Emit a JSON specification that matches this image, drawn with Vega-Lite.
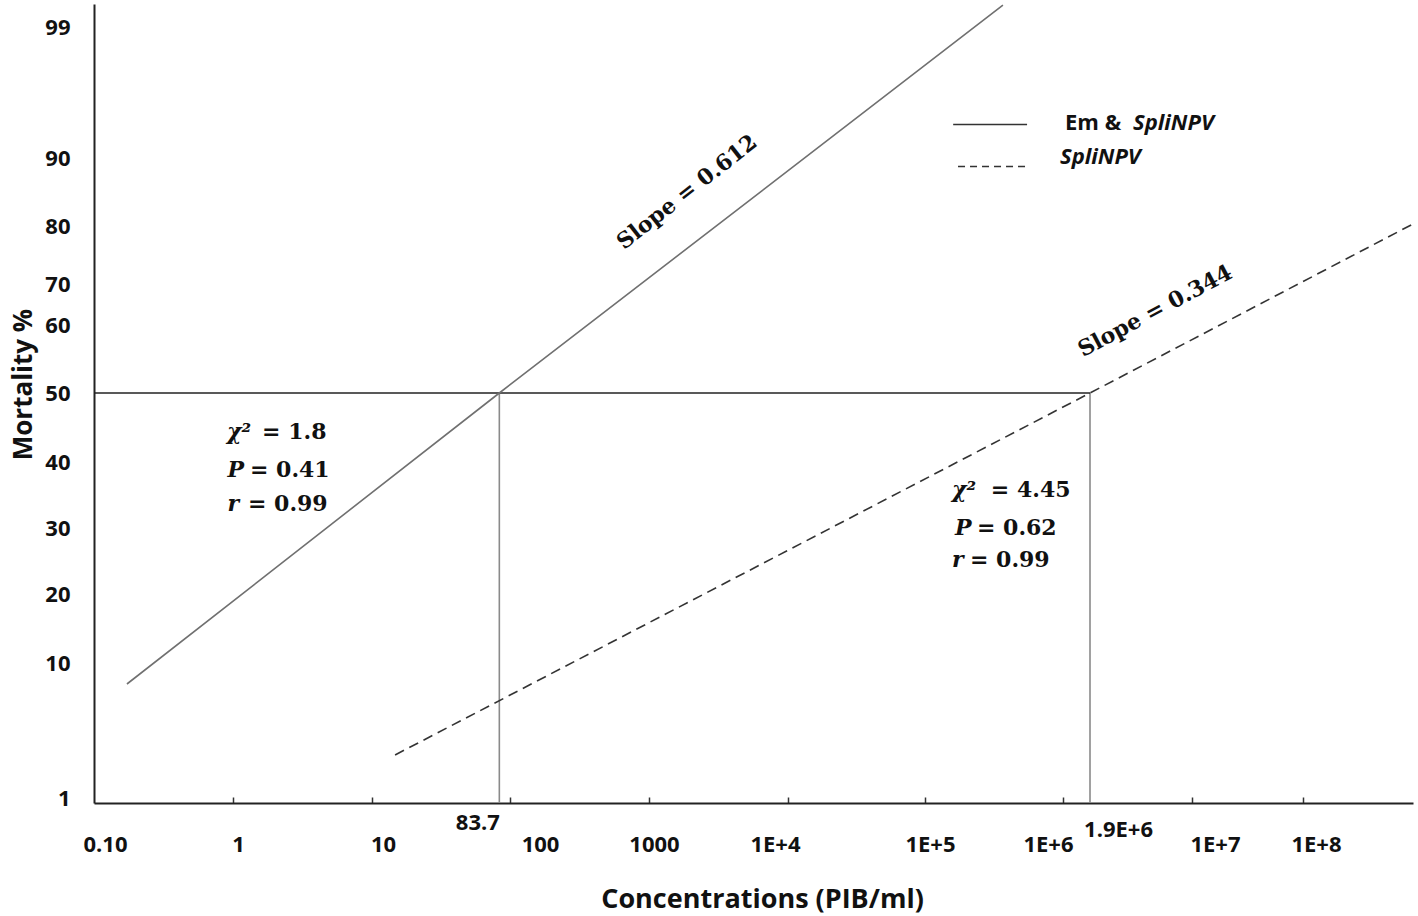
{
  "$schema": "https://vega.github.io/schema/vega-lite/v6.json",
  "width": 1319,
  "height": 799,
  "autosize": {"type": "none"},
  "padding": {"left": 94, "top": 4, "right": 5, "bottom": 113},
  "background": "#ffffff",
  "config": {"view": {"stroke": null}},
  "datasets": {
    "lines": [
      {"series": "Em & SpliNPV", "conc": 0.1726, "mort": 8.6},
      {"series": "Em & SpliNPV", "conc": 83.7, "mort": 50},
      {"series": "Em & SpliNPV", "conc": 367000, "mort": 100.5},
      {"series": "SpliNPV", "conc": 14.7, "mort": 3.87},
      {"series": "SpliNPV", "conc": 1900000, "mort": 50},
      {"series": "SpliNPV", "conc": 1000000000, "mort": 80.3}
    ],
    "refs": [
      {"kind": "h", "conc": 0.1, "conc2": 1900000, "mort": 50},
      {"kind": "v", "conc": 83.7, "mort": 50},
      {"kind": "v", "conc": 1900000, "mort": 50}
    ],
    "slopes": [
      {"text": "Slope = 0.612", "conc": 1876, "mort": 85.0},
      {"text": "Slope = 0.344", "conc": 5480000, "mort": 63.4}
    ],
    "stats": [
      {"kind": "sym", "text": "χ²", "conc": 0.906, "mort": 44.35},
      {"kind": "sym", "text": "P", "conc": 0.913, "mort": 38.8},
      {"kind": "sym", "text": "r", "conc": 0.913, "mort": 33.6},
      {"kind": "val", "text": "= 1.8", "conc": 1.62, "mort": 44.35},
      {"kind": "val", "text": "= 0.41", "conc": 1.325, "mort": 38.8},
      {"kind": "val", "text": "= 0.99", "conc": 1.282, "mort": 33.6},
      {"kind": "sym", "text": "χ²", "conc": 156900, "mort": 35.8},
      {"kind": "sym", "text": "P", "conc": 165000, "mort": 30.0},
      {"kind": "sym", "text": "r", "conc": 156900, "mort": 25.2},
      {"kind": "val", "text": "= 4.45", "conc": 300000, "mort": 35.8},
      {"kind": "val", "text": "=  0.62", "conc": 238100, "mort": 30.0},
      {"kind": "val", "text": "= 0.99", "conc": 211900, "mort": 25.2}
    ],
    "legendLines": [
      {"series": "Em & SpliNPV", "conc": 160000, "conc2": 549000, "mort": 92.3},
      {"series": "SpliNPV", "conc": 173500, "conc2": 549000, "mort": 88.75}
    ],
    "legendText": [
      {"text": "Em &", "conc": 1049000, "mort": 92.4},
      {"text": "SpliNPV", "conc": 3830000, "mort": 92.4},
      {"text": "SpliNPV", "conc": 951000, "mort": 90.1}
    ]
  },
  "encoding": {
    "x": {
      "field": "conc",
      "type": "quantitative",
      "scale": {
        "type": "log",
        "domain": [0.1, 1, 10, 100, 1000, 10000, 100000, 1000000, 1900000, 10000000, 100000000, 1000000000],
        "range": [0, 139, 278, 416, 555, 694, 831, 969, 996, 1098, 1209, 1319],
        "nice": false,
        "zero": false
      },
      "axis": {
        "title": "Concentrations (PIB/ml)",
        "values": [0.1, 1, 10, 83.7, 100, 1000, 10000, 100000, 1000000, 1900000, 10000000, 100000000],
        "labelExpr": "datum.value == 0.1 ? '0.10' : datum.value == 83.7 ? '83.7' : datum.value == 1900000 ? '1.9E+6' : datum.value < 10000 ? format(datum.value, 'd') : '1E+' + round(log(datum.value) / LN10)",
        "labelOverlap": false,
        "labelFlush": false,
        "labelBound": false,
        "labelFont": "Open Sans",
        "labelFontSize": 22,
        "labelFontWeight": "bold",
        "labelColor": "#111111",
        "labelAlign": "center",
        "labelBaseline": "top",
        "labelPadding": {"condition": [{"test": "datum.value == 83.7", "value": 15.5}, {"test": "datum.value == 1900000", "value": 22.5}], "value": 37.5},
        "labelOffset": {"condition": [
          {"test": "datum.value == 0.1", "value": 11},
          {"test": "datum.value == 10", "value": 11},
          {"test": "datum.value == 100", "value": 30},
          {"test": "datum.value == 10000", "value": -13},
          {"test": "datum.value == 1000000", "value": -15},
          {"test": "datum.value == 10000000", "value": 23},
          {"test": "datum.value == 100000000", "value": 13},
          {"test": "datum.value == 83.7", "value": -22},
          {"test": "datum.value == 1900000", "value": 28}
        ], "value": 5},
        "ticks": true,
        "tickSize": -6,
        "tickColor": "#333333",
        "tickWidth": 1.5,
        "tickOpacity": {"condition": {"test": "datum.value == 83.7 || datum.value == 1900000 || datum.value == 0.1", "value": 0}, "value": 1},
        "domain": true,
        "domainColor": "#222222",
        "domainWidth": 2,
        "grid": false,
        "titleFont": "Open Sans",
        "titleFontSize": 27,
        "titleFontWeight": "bold",
        "titleColor": "#111111",
        "titleX": 668,
        "titleY": 96,
        "titleAlign": "center",
        "titleBaseline": "middle"
      }
    },
    "y": {
      "field": "mort",
      "type": "quantitative",
      "scale": {
        "type": "linear",
        "domain": [0.667, 1, 10, 20, 30, 40, 50, 60, 70, 80, 90, 99, 100.58],
        "range": [799, 794, 659, 590, 524, 458, 389, 321, 280, 222, 154, 23, 0],
        "nice": false,
        "zero": false
      },
      "axis": {
        "title": "Mortality %",
        "values": [1, 10, 20, 30, 40, 50, 60, 70, 80, 90, 99],
        "format": "d",
        "ticks": false,
        "domain": true,
        "domainColor": "#222222",
        "domainWidth": 2,
        "grid": false,
        "labelFont": "Open Sans",
        "labelFontSize": 22,
        "labelFontWeight": "bold",
        "labelColor": "#111111",
        "labelPadding": 24,
        "labelAlign": "right",
        "labelBaseline": "middle",
        "labelOverlap": false,
        "labelFlush": false,
        "titleFont": "Open Sans",
        "titleFontSize": 26,
        "titleFontWeight": "bold",
        "titleColor": "#111111",
        "titleX": -71,
        "titleY": 380,
        "titleAlign": "center",
        "titleBaseline": "middle"
      }
    }
  },
  "layer": [
    {
      "data": {"name": "refs"},
      "transform": [{"filter": "datum.kind == 'v'"}],
      "mark": {"type": "rule", "color": "#8a8a8a", "strokeWidth": 1.6},
      "encoding": {"y2": {"value": "height"}}
    },
    {
      "data": {"name": "refs"},
      "transform": [{"filter": "datum.kind == 'h'"}],
      "mark": {"type": "rule", "color": "#222222", "strokeWidth": 1.6},
      "encoding": {"x2": {"field": "conc2"}}
    },
    {
      "data": {"name": "lines"},
      "transform": [{"filter": "datum.series == 'Em & SpliNPV'"}],
      "mark": {"type": "line", "color": "#707070", "strokeWidth": 1.6},
      "encoding": {}
    },
    {
      "data": {"name": "lines"},
      "transform": [{"filter": "datum.series == 'SpliNPV'"}],
      "mark": {"type": "line", "color": "#333333", "strokeWidth": 1.6, "strokeDash": [10, 6]},
      "encoding": {}
    },
    {
      "data": {"name": "slopes"},
      "transform": [{"filter": "datum.text == 'Slope = 0.612'"}],
      "mark": {"type": "text", "font": "DejaVu Serif", "fontWeight": "bold", "fontSize": 22, "angle": -38, "align": "center", "baseline": "middle", "color": "#111111"},
      "encoding": {"text": {"field": "text"}}
    },
    {
      "data": {"name": "slopes"},
      "transform": [{"filter": "datum.text == 'Slope = 0.344'"}],
      "mark": {"type": "text", "font": "DejaVu Serif", "fontWeight": "bold", "fontSize": 22, "angle": -28, "align": "center", "baseline": "middle", "color": "#111111"},
      "encoding": {"text": {"field": "text"}}
    },
    {
      "data": {"name": "stats"},
      "transform": [{"filter": "datum.kind == 'sym'"}],
      "mark": {"type": "text", "font": "DejaVu Serif", "fontWeight": "bold", "fontStyle": "italic", "fontSize": 22, "align": "left", "baseline": "middle", "color": "#111111"},
      "encoding": {"text": {"field": "text"}}
    },
    {
      "data": {"name": "stats"},
      "transform": [{"filter": "datum.kind == 'val'"}],
      "mark": {"type": "text", "font": "DejaVu Serif", "fontWeight": "bold", "fontSize": 22, "align": "left", "baseline": "middle", "color": "#111111"},
      "encoding": {"text": {"field": "text"}}
    },
    {
      "data": {"name": "legendLines"},
      "transform": [{"filter": "datum.series == 'Em & SpliNPV'"}],
      "mark": {"type": "rule", "color": "#333333", "strokeWidth": 1.6},
      "encoding": {"x2": {"field": "conc2"}}
    },
    {
      "data": {"name": "legendLines"},
      "transform": [{"filter": "datum.series == 'SpliNPV'"}],
      "mark": {"type": "rule", "color": "#333333", "strokeWidth": 1.6, "strokeDash": [7, 5]},
      "encoding": {"x2": {"field": "conc2"}}
    },
    {
      "data": {"name": "legendText"},
      "transform": [{"filter": "datum.text == 'Em &'"}],
      "mark": {"type": "text", "font": "Open Sans", "fontWeight": "bold", "fontSize": 22, "align": "left", "baseline": "middle", "color": "#111111"},
      "encoding": {"text": {"field": "text"}}
    },
    {
      "data": {"name": "legendText"},
      "transform": [{"filter": "datum.text == 'SpliNPV'"}],
      "mark": {"type": "text", "font": "Open Sans", "fontWeight": "bold", "fontStyle": "italic", "fontSize": 22, "align": "left", "baseline": "middle", "color": "#111111"},
      "encoding": {"text": {"field": "text"}}
    }
  ]
}
